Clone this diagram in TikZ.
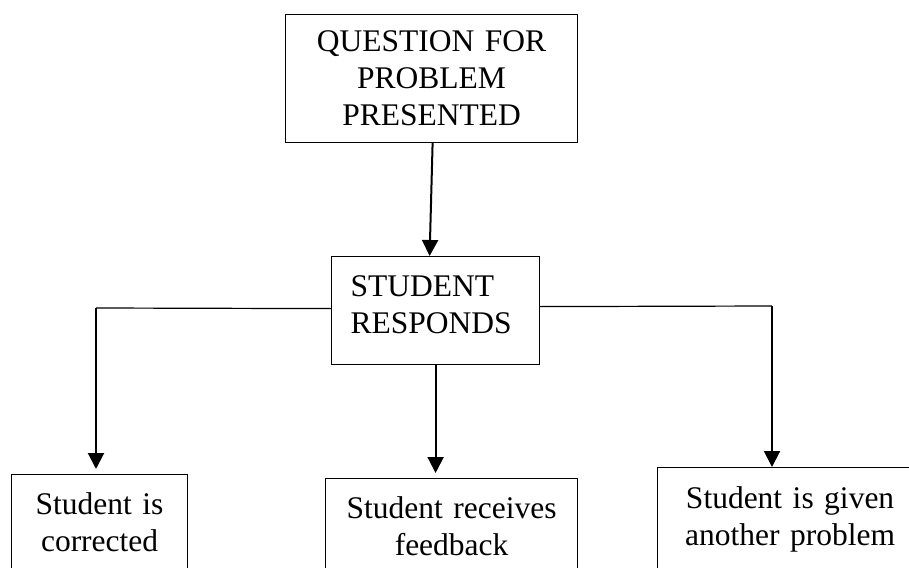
\documentclass[tikz,border=0pt]{standalone}
\usepackage{fontspec}
\setmainfont{Liberation Serif}
\usetikzlibrary{arrows.meta}

\tikzset{
  stepbox/.style={draw, line width=1.2pt, inner sep=0pt, align=center,
    anchor=north west, font=\fontsize{31.5}{37}\selectfont},
  flowarrow/.style={-{Triangle[width=16pt,length=16pt]}, line width=2pt},
  joinline/.style={line width=1.2pt}
}

\begin{document}
\begin{tikzpicture}[x=1pt,y=-1pt]
\useasboundingbox (0,0) rectangle (909,567);

\node[stepbox, text width=292pt, minimum height=128pt] (question) at (285,14) {QUESTION FOR\\PROBLEM\\PRESENTED};
\node[stepbox, align=left, inner xsep=19pt, text width=170pt, minimum height=108pt] (respond) at (331,256) {STUDENT\\RESPONDS\rule[-13pt]{0pt}{13pt}};

\node[stepbox, text width=176pt, minimum height=95pt] (corrected) at (11,474) {Student is\\corrected};
\node[stepbox, text width=252pt, minimum height=95pt] (feedback) at (325,478) {Student receives\\feedback};
\node[stepbox, text width=265pt, minimum height=104pt] (another) at (657,467) {Student is given\\another problem};

\coordinate (leftturn) at (96,308);
\coordinate (rightturn) at (772,306);

\draw[flowarrow] ([xshift=1pt]question.south) -- ([xshift=-6pt]respond.north);
\draw[joinline] ([yshift=2pt]respond.west) -- (leftturn);
\draw[flowarrow, shorten >=5pt] (leftturn) -- (leftturn |- corrected.north);
\draw[flowarrow, shorten >=5pt] (respond.south) -- (respond.south |- feedback.north);
\draw[joinline] ([yshift=4pt]respond.east) -- (rightturn);
\draw[flowarrow] (rightturn) -- (rightturn |- another.north);

\end{tikzpicture}
\end{document}
